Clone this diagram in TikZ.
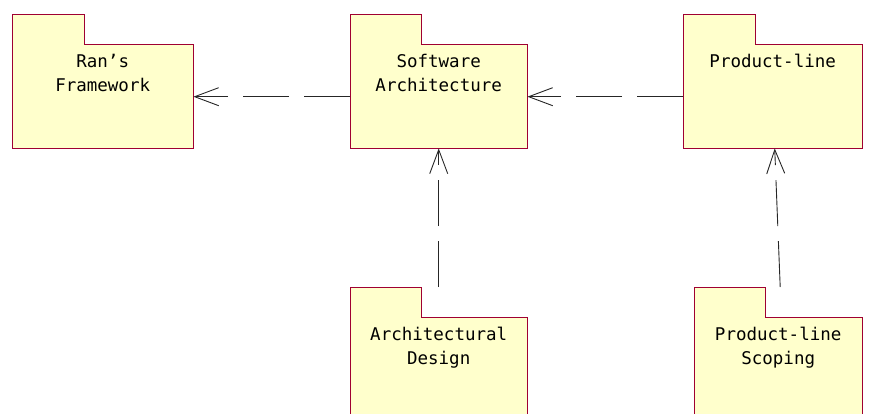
\documentclass[tikz,border=0pt]{standalone}
\usepackage{fontspec}
\newfontfamily\pkgfont{DejaVu Sans Mono}
\usetikzlibrary{arrows.meta}
\definecolor{pkgfill}{RGB}{255,255,204}
\definecolor{pkgedge}{RGB}{160,0,50}
\tikzset{
  pkg/.style={draw=none,inner sep=0pt,minimum width=#1,minimum height=133pt,anchor=north west},
  pkgbody/.style={draw=none,inner sep=0pt,minimum width=#1,minimum height=103pt,anchor=north west},
  pkgline/.style={draw=pkgedge,fill=pkgfill,line width=1pt},
  pkglabel/.style={font=\pkgfont\fontsize{17.5}{24}\selectfont,align=center,inner sep=0pt,anchor=north},
  dep/.style={draw=black!85,line width=0.9pt,dash pattern=on 46pt off 15pt,-{Straight Barb[length=24pt,width=18pt,line width=0.9pt]}}
}
\begin{document}
\begin{tikzpicture}[x=1pt,y=-1pt]
\useasboundingbox (0,0) rectangle (869,414);
\clip (0,0) rectangle (869,414);
% whole-package frames
\node[pkg=181pt] (ran) at (12,15) {};
\node[pkg=177pt] (sa)  at (350,15) {};
\node[pkg=179pt] (pl)  at (683,15) {};
\node[pkg=177pt] (ad)  at (350,287) {};
\node[pkg=168pt] (pls) at (694,287) {};
% bodies
\node[pkgbody=181pt] (ranB) at (12,45) {};
\node[pkgbody=177pt] (saB)  at (350,45) {};
\node[pkgbody=179pt] (plB)  at (683,45) {};
\node[pkgbody=177pt] (adB)  at (350,317) {};
\node[pkgbody=168pt] (plsB) at (694,317) {};
% outlines (tab + body)
\draw[pkgline] (ran.north west) -- ++(72,0) -- ++(0,30) -- (ranB.north east) -- (ranB.south east) -- (ranB.south west) -- cycle;
\draw[pkgline] (sa.north west) -- ++(71,0) -- ++(0,30) -- (saB.north east) -- (saB.south east) -- (saB.south west) -- cycle;
\draw[pkgline] (pl.north west) -- ++(72,0) -- ++(0,30) -- (plB.north east) -- (plB.south east) -- (plB.south west) -- cycle;
\draw[pkgline] (ad.north west) -- ++(71,0) -- ++(0,30) -- (adB.north east) -- (adB.south east) -- (adB.south west) -- cycle;
\draw[pkgline] (pls.north west) -- ++(71,0) -- ++(0,30) -- (plsB.north east) -- (plsB.south east) -- (plsB.south west) -- cycle;
% labels
\node[pkglabel] (ranL) at ([yshift=-6pt]ranB.north) {\strut Ran’s\\Framework};
\node[pkglabel] (saL)  at ([yshift=-6pt]saB.north)  {\strut Software\\Architecture};
\node[pkglabel] (plL)  at ([yshift=-6pt]plB.north)  {\strut Product-line};
\node[pkglabel] (adL)  at ([yshift=-6pt]adB.north)  {\strut Architectural\\Design};
\node[pkglabel] (plsL) at ([yshift=-6pt]plsB.north) {\strut Product-line\\Scoping};
% dependencies
\draw[dep] (saB.west) -- (ranB.east);
\draw[dep] (plB.west) -- (saB.east);
\draw[dep] (ad.north) -- (sa.south);
\draw[dep] ([xshift=2pt]pls.north) -- ([xshift=2pt]pl.south);
\end{tikzpicture}
\end{document}
